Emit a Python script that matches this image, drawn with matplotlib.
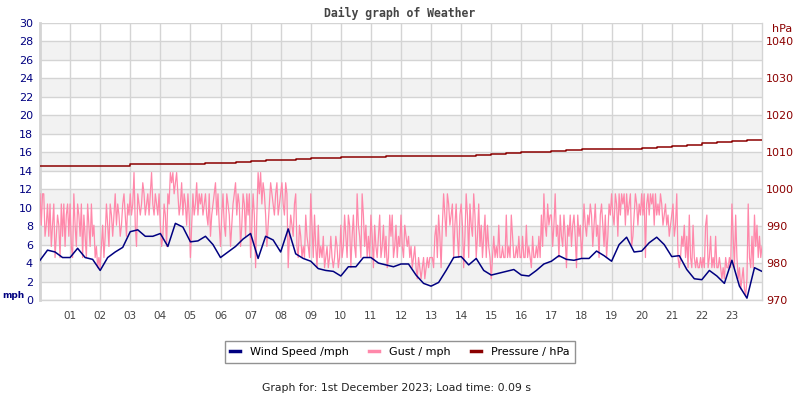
import numpy as np
import matplotlib.pyplot as plt

# wind speed every 15 minutes (mph)
wind_speed = [4.3, 5.4, 5.2, 4.6, 4.6, 5.6, 4.6, 4.4, 3.2, 4.6, 5.2, 5.7,
              7.4, 7.6, 6.9, 6.9, 7.2, 5.8, 8.3, 7.9, 6.3, 6.4, 6.9, 6.0,
              4.6, 5.2, 5.8, 6.6, 7.2, 4.5, 6.9, 6.5, 5.2, 7.7, 5.0, 4.5,
              4.2, 3.4, 3.2, 3.1, 2.6, 3.6, 3.6, 4.6, 4.6, 4.0, 3.8, 3.6,
              3.9, 3.9, 2.7, 1.8, 1.5, 1.9, 3.2, 4.6, 4.7, 3.8, 4.5, 3.2,
              2.7, 2.9, 3.1, 3.3, 2.7, 2.6, 3.2, 3.9, 4.2, 4.8, 4.4, 4.3,
              4.5, 4.5, 5.3, 4.8, 4.2, 6.0, 6.8, 5.2, 5.3, 6.2, 6.8, 6.0,
              4.7, 4.8, 3.3, 2.3, 2.2, 3.2, 2.6, 1.8, 4.3, 1.5, 0.2, 3.5,
              3.1]

# gust every 2.5 minutes (mph), one line per hour
gust = [11.5, 8.1, 11.5, 11.5, 6.9, 8.1, 10.4, 6.9, 10.4, 5.8, 8.1, 10.4, 4.6, 6.9, 9.2, 8.1, 4.6, 10.4, 6.9, 10.4, 5.8, 9.2, 10.4, 6.9,
        10.4, 5.8, 4.6, 11.5, 8.1, 5.8, 10.4, 9.2, 6.9, 10.4, 4.6, 9.2, 6.9, 4.6, 10.4, 8.1, 5.8, 10.4, 6.9, 8.1, 4.6, 5.8, 3.5, 4.6,
        3.5, 5.8, 8.1, 4.6, 6.9, 10.4, 8.1, 5.8, 10.4, 9.2, 6.9, 9.2, 11.5, 8.1, 10.4, 9.2, 6.9, 8.1, 10.4, 11.5, 9.2, 6.9, 10.4, 9.2,
        11.5, 9.2, 10.4, 13.8, 8.1, 5.8, 11.5, 10.4, 9.2, 10.4, 12.7, 11.5, 9.2, 10.4, 11.5, 9.2, 11.5, 13.8, 10.4, 9.2, 11.5, 10.4, 9.2, 11.5,
        8.1, 5.8, 6.9, 10.4, 9.2, 5.8, 11.5, 10.4, 13.8, 12.7, 13.8, 11.5, 12.7, 13.8, 11.5, 9.2, 10.4, 12.7, 9.2, 11.5, 10.4, 8.1, 11.5, 9.2,
        4.6, 8.1, 11.5, 9.2, 10.4, 12.7, 9.2, 11.5, 10.4, 11.5, 9.2, 10.4, 11.5, 9.2, 8.1, 11.5, 6.9, 9.2, 10.4, 11.5, 12.7, 9.2, 11.5, 8.1,
        5.8, 9.2, 11.5, 8.1, 6.9, 11.5, 10.4, 9.2, 5.8, 8.1, 10.4, 11.5, 12.7, 9.2, 11.5, 10.4, 5.8, 8.1, 11.5, 10.4, 6.9, 11.5, 9.2, 11.5,
        4.6, 8.1, 11.5, 9.2, 3.5, 9.2, 13.8, 11.5, 13.8, 10.4, 12.7, 11.5, 9.2, 5.8, 8.1, 10.4, 12.7, 11.5, 10.4, 9.2, 11.5, 12.7, 9.2, 10.4,
        11.5, 12.7, 10.4, 9.2, 12.7, 11.5, 3.5, 6.9, 9.2, 8.1, 6.9, 10.4, 11.5, 5.8, 4.6, 8.1, 6.9, 4.6, 5.8, 4.6, 9.2, 6.9, 5.8, 4.6,
        11.5, 8.1, 4.6, 9.2, 5.8, 3.5, 8.1, 4.6, 5.8, 4.6, 6.9, 3.5, 4.6, 5.8, 3.5, 4.6, 6.9, 4.6, 3.5, 4.6, 6.9, 5.8, 3.5, 4.6,
        8.1, 4.6, 5.8, 9.2, 6.9, 4.6, 9.2, 8.1, 3.5, 6.9, 9.2, 5.8, 4.6, 11.5, 8.1, 6.9, 4.6, 11.5, 9.2, 5.8, 8.1, 4.6, 6.9, 4.6,
        9.2, 6.9, 3.5, 8.1, 5.8, 4.6, 6.9, 9.2, 4.6, 5.8, 8.1, 4.6, 6.9, 3.5, 4.6, 9.2, 6.9, 9.2, 4.6, 5.8, 8.1, 4.6, 6.9, 5.8,
        9.2, 5.8, 4.6, 8.1, 6.9, 5.8, 6.9, 4.6, 5.8, 3.5, 4.6, 5.8, 3.5, 2.3, 4.6, 3.5, 2.3, 3.5, 4.6, 2.3, 3.5, 4.6, 3.5, 4.6,
        4.6, 4.6, 3.5, 6.9, 8.1, 4.6, 9.2, 6.9, 3.5, 8.1, 11.5, 9.2, 6.9, 11.5, 10.4, 8.1, 9.2, 10.4, 4.6, 8.1, 10.4, 6.9, 4.6, 9.2,
        10.4, 8.1, 3.5, 6.9, 11.5, 9.2, 4.6, 10.4, 8.1, 6.9, 11.5, 9.2, 4.6, 6.9, 10.4, 5.8, 8.1, 4.6, 6.9, 9.2, 4.6, 8.1, 5.8, 4.6,
        2.3, 4.6, 6.9, 4.6, 5.8, 4.6, 8.1, 4.6, 4.6, 5.8, 4.6, 4.6, 9.2, 4.6, 5.8, 4.6, 9.2, 6.9, 4.6, 4.6, 5.8, 4.6, 6.9, 4.6,
        4.6, 6.9, 4.6, 4.6, 8.1, 4.6, 5.8, 4.6, 3.5, 6.9, 4.6, 4.6, 5.8, 4.6, 6.9, 4.6, 9.2, 5.8, 11.5, 8.1, 6.9, 10.4, 8.1, 9.2,
        9.2, 5.8, 8.1, 11.5, 6.9, 8.1, 4.6, 9.2, 6.9, 5.8, 9.2, 6.9, 3.5, 8.1, 6.9, 9.2, 5.8, 8.1, 9.2, 6.9, 3.5, 9.2, 6.9, 8.1,
        4.6, 6.9, 10.4, 8.1, 6.9, 9.2, 8.1, 10.4, 9.2, 5.8, 8.1, 10.4, 6.9, 8.1, 4.6, 9.2, 10.4, 8.1, 5.8, 9.2, 4.6, 6.9, 10.4, 9.2,
        11.5, 9.2, 8.1, 11.5, 10.4, 6.9, 11.5, 9.2, 11.5, 10.4, 11.5, 8.1, 11.5, 9.2, 10.4, 11.5, 5.8, 6.9, 9.2, 11.5, 10.4, 8.1, 10.4, 9.2,
        11.5, 9.2, 11.5, 4.6, 10.4, 11.5, 9.2, 11.5, 10.4, 11.5, 8.1, 11.5, 9.2, 10.4, 9.2, 11.5, 10.4, 8.1, 9.2, 10.4, 8.1, 9.2, 6.9, 8.1,
        9.2, 10.4, 6.9, 8.1, 11.5, 4.6, 3.5, 4.6, 6.9, 5.8, 8.1, 4.6, 6.9, 3.5, 9.2, 4.6, 3.5, 8.1, 4.6, 3.5, 4.6, 3.5, 3.5, 4.6,
        3.5, 4.6, 3.5, 8.1, 9.2, 3.5, 4.6, 6.9, 3.5, 4.6, 3.5, 6.9, 3.5, 3.5, 4.6, 3.5, 2.3, 3.5, 2.3, 4.6, 3.5, 3.5, 4.6, 3.5,
        10.4, 6.9, 3.5, 9.2, 4.6, 2.3, 3.5, 1.2, 2.3, 3.5, 1.2, 0.5, 2.3, 10.4, 4.6, 3.5, 6.9, 3.5, 9.2, 5.8, 8.1, 4.6, 6.9, 4.6,
        5.8]

# pressure every 30 minutes (hPa)
pressure = [1006.3, 1006.3, 1006.3, 1006.4, 1006.4, 1006.4, 1006.7, 1006.7,
            1006.7, 1006.7, 1006.7, 1007.0, 1007.0, 1007.3, 1007.6, 1007.8,
            1008.0, 1008.2, 1008.4, 1008.5, 1008.7, 1008.7, 1008.8, 1009.0,
            1009.0, 1009.0, 1009.0, 1008.9, 1009.0, 1009.3, 1009.5, 1009.7,
            1010.1, 1010.2, 1010.4, 1010.6, 1010.8, 1010.8, 1010.9, 1011.0,
            1011.2, 1011.5, 1011.7, 1012.1, 1012.4, 1012.8, 1013.0, 1013.2,
            1013.2]

hour_labels = ['%02d' % h for h in range(1, 24)]
mph_ticks = list(range(0, 31, 2))
hpa_ticks = list(range(970, 1041, 10))

t_wind = np.linspace(0, 24, len(wind_speed))
t_gust = np.linspace(0, 24, len(gust))
t_pres = np.linspace(0, 24, len(pressure))

grid_col = '#d4d4d4'
navy = '#000080'
darkred = '#8b0000'
pink = '#ff88aa'

fig = plt.figure(figsize=(8, 4), dpi=100)
ax = fig.add_axes([0.05, 0.25, 0.9025, 0.6925])

# alternating bands
for y0 in range(2, 30, 4):
    ax.axhspan(y0, y0 + 2, color='#f2f2f2', zorder=0, lw=0)

ax.plot(t_gust, gust, color=pink, lw=0.9, zorder=3)
ax.plot(t_wind, wind_speed, color=navy, lw=1.1, zorder=4)

ax.set_xlim(0, 24)
ax.set_ylim(0, 30)
ax.set_yticks(mph_ticks)
ax.set_xticks(range(1, 24))
ax.set_xticklabels(hour_labels)
ax.grid(True, color=grid_col, lw=1, zorder=1)
ax.set_axisbelow(True)
ax.tick_params(axis='y', length=0, pad=5, labelsize=8, labelcolor=navy)
ax.tick_params(axis='x', length=0, pad=8, labelsize=7.5, labelcolor='#444444')
for s in ax.spines.values():
    s.set_color(grid_col)
    s.set_linewidth(1)
ax.spines['top'].set_visible(False)
ax.spines['left'].set_linewidth(2)

ax2 = ax.twinx()
ax2.plot(t_pres, pressure, color=darkred, lw=1.1, drawstyle='steps-post', zorder=5)
ax2.set_ylim(970, 1045)
ax2.set_yticks(hpa_ticks)
ax2.tick_params(axis='y', length=0, pad=3, labelsize=8, labelcolor=darkred)
for s in ax2.spines.values():
    s.set_visible(False)

fig.text(400 / 800, 1 - 13 / 400, 'Daily graph of Weather', ha='center', va='center',
         family='DejaVu Sans Mono', fontweight='bold', fontsize=8.3, color='#444444')
fig.text(2 / 800, 1 - 295 / 400, 'mph', ha='left', va='center', fontweight='bold',
         fontsize=6.5, color=navy)
fig.text(772 / 800, 1 - 29 / 400, 'hPa', ha='left', va='center', fontsize=8, color=darkred)

handles = [plt.Line2D([], [], color=navy, lw=2.5),
           plt.Line2D([], [], color=pink, lw=2.5),
           plt.Line2D([], [], color=darkred, lw=2.5)]
leg = fig.legend(handles, ['Wind Speed /mph', 'Gust / mph', 'Pressure / hPa'],
                 loc='center', bbox_to_anchor=(400 / 800, 1 - 352 / 400), ncol=3,
                 fontsize=8, frameon=True, fancybox=False, handlelength=0.9,
                 handletextpad=0.9, columnspacing=1.8, borderpad=0.5)
leg.get_frame().set_edgecolor('#777777')
leg.get_frame().set_linewidth(1)

fig.text(396 / 800, 1 - 388 / 400, 'Graph for: 1st December 2023; Load time: 0.09 s',
         ha='center', va='center', fontsize=7.8, color='#222222')

fig.savefig('out.png', dpi=100, facecolor='white')
